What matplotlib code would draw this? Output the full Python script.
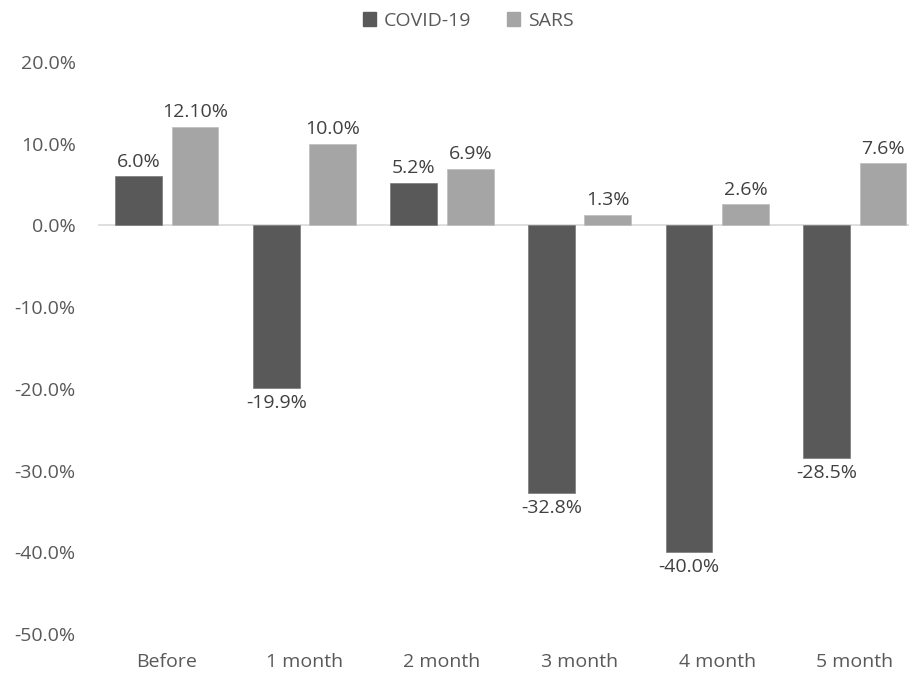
import numpy as np
from matplotlib import pyplot as plt
from matplotlib.patches import Patch

categories = ['Before', '1 month', '2 month', '3 month', '4 month', '5 month']
covid = [6.0, -19.9, 5.2, -32.8, -40.0, -28.5]
sars = [12.1, 10.0, 6.9, 1.3, 2.6, 7.6]
covid_labels = ['6.0%', '-19.9%', '5.2%', '-32.8%', '-40.0%', '-28.5%']
sars_labels = ['12.10%', '10.0%', '6.9%', '1.3%', '2.6%', '7.6%']
yticks = [-50, -40, -30, -20, -10, 0, 10, 20]

plt.rcParams['font.family'] = ['Open Sans', 'DejaVu Sans']
txt = '#595959'
c_dark, c_light = '#595959', '#a5a5a5'

fig = plt.figure(figsize=(9.09, 6.74), dpi=100)
ax = fig.add_axes([98 / 909, 40 / 674, 1 - 98 / 909, 572 / 674])

x = np.arange(len(categories))
w = 0.34
off = 0.205
ax.bar(x - off, covid, w, color=c_dark, edgecolor='#7a7a7a', lw=0.5)
ax.bar(x + off, sars, w, color=c_light, edgecolor='#bdbdbd', lw=0.5)

fs = 14
for xi, v, lab in zip(x - off, covid, covid_labels):
    if v >= 0:
        ax.annotate(lab, (xi, v), xytext=(0, 4), textcoords='offset points',
                    ha='center', va='bottom', fontsize=fs, color='#404040')
    else:
        ax.annotate(lab, (xi, v), xytext=(0, -4), textcoords='offset points',
                    ha='center', va='top', fontsize=fs, color='#404040')
for xi, v, lab in zip(x + off, sars, sars_labels):
    ax.annotate(lab, (xi, v), xytext=(0, 4), textcoords='offset points',
                ha='center', va='bottom', fontsize=fs, color='#404040')

ax.axhline(0, color='#d9d9d9', lw=1.2, zorder=0)
ax.set_ylim(-50, 20)
ax.set_xlim(-0.5, -0.5 + 811 / 137.6)
ax.set_yticks(yticks)
ax.set_yticklabels([f'{t:.1f}%' for t in yticks])
ax.set_xticks(x)
ax.set_xticklabels(categories)
ax.tick_params(axis='both', length=0, labelsize=fs, labelcolor=txt)
ax.tick_params(axis='y', pad=16)
ax.tick_params(axis='x', pad=14)
for s in ax.spines.values():
    s.set_visible(False)

handles = [Patch(color=c_dark, label='COVID-19'), Patch(color=c_light, label='SARS')]
fig.legend(handles=handles, loc='upper center', bbox_to_anchor=(0.515, 1.008), ncol=2,
           frameon=False, fontsize=fs, labelcolor=txt, handlelength=0.7,
           handleheight=0.7, handletextpad=0.4, columnspacing=1.8)

plt.savefig('out.png', dpi=100)
